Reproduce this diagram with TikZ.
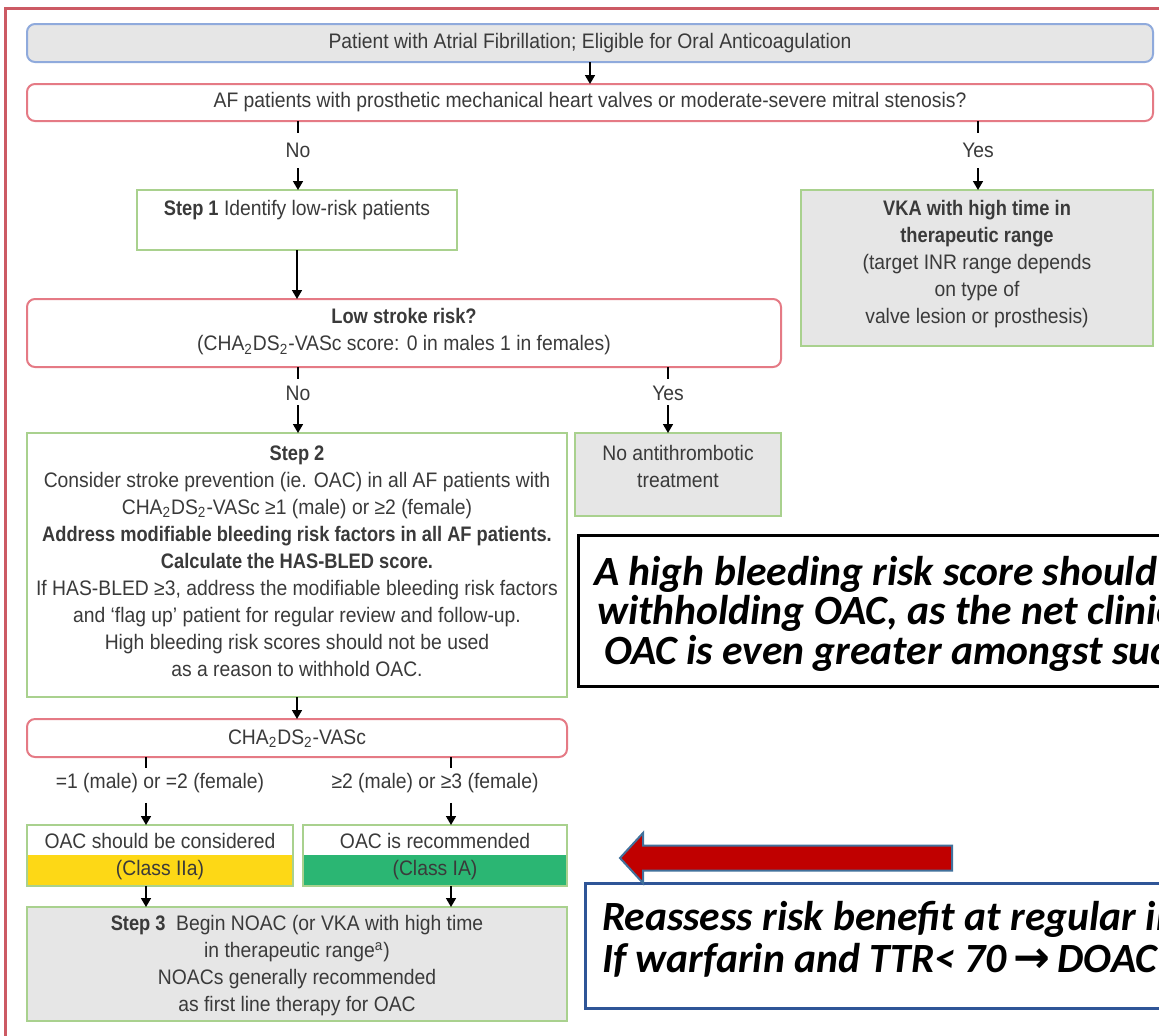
\documentclass[tikz,border=0pt]{standalone}
\usepackage{fontspec}
\setmainfont{Liberation Sans}[FakeStretch=0.92, BoldFeatures={FakeStretch=0.87}]
\newfontfamily\callfont{Carlito}
\newfontfamily\symfont{DejaVu Sans}
\usetikzlibrary{arrows.meta,fit,calc}
\definecolor{frameRed}{HTML}{CC5A64}
\definecolor{boxBlue}{HTML}{8FAADC}
\definecolor{boxRed}{HTML}{E57A85}
\definecolor{boxGreen}{HTML}{A9D18E}
\definecolor{boxGray}{HTML}{E6E6E6}
\definecolor{txtGray}{HTML}{3A3A3A}
\definecolor{classYellow}{HTML}{FDD816}
\definecolor{classGreen}{HTML}{2BB673}
\definecolor{arrowRed}{HTML}{C00000}
\definecolor{arrowEdge}{HTML}{41719C}
\definecolor{calloutBlue}{HTML}{2F5597}
\begin{document}
\begin{tikzpicture}[x=0.5pt,y=-0.5pt,
  every node/.style={inner sep=0pt, outer sep=0pt, text=txtGray, font=\fontsize{10.5}{13.5}\selectfont, align=center},
  redbox/.style={draw=boxRed, line width=1pt, rounded corners=4pt, fill=white},
  bluebox/.style={draw=boxBlue, line width=1pt, rounded corners=4pt, fill=boxGray},
  greenbox/.style={draw=boxGreen, line width=1pt},
  graybox/.style={draw=boxGreen, line width=1pt, fill=boxGray},
  stub/.style={line width=0.8pt, draw=black},
  arr/.style={line width=0.8pt, draw=black, -{Triangle[length=4.5pt,width=5pt]}},
  callout/.style={font=\callfont\bfseries\itshape\fontsize{20.8}{20}\selectfont, text=black, anchor=base west, align=left},
]
\useasboundingbox (0,0) rectangle (1159,1035);
\clip (0,0) rectangle (1159,1035);
\fill[white] (0,0) rectangle (1159,1035);
\draw[frameRed, line width=1.5pt] (5,8) rectangle (1185,1050);

% top boxes
\node[bluebox, fit={(27,24)(1153,62)}] (start) {};
\node (startt) at (590,43) {Patient with Atrial Fibrillation; Eligible for Oral Anticoagulation};
\node[redbox, fit={(27,84)(1153,121)}] (af) {};
\node (aft) at (590,102) {AF patients with prosthetic mechanical heart valves or moderate-severe mitral stenosis?};
\draw[arr] (start) -- (af);

% step 1 and VKA
\node[greenbox, fit={(137,190)(457,250)}] (s1) {};
\node (s1t) at (297,210) {\textbf{Step 1} Identify low-risk patients};
\node[graybox, fit={(801,190)(1153,346)}] (vka) {};
\node (vkat) at (977,264) {\textbf{VKA with high time in}\\\textbf{therapeutic range}\\(target INR range depends\\on type of\\valve lesion or prosthesis)};

\node (no1) at (298,150) {No};
\node (yes1) at (978,150) {Yes};
\draw[stub, shorten >=8.5pt] (af.south -| no1) -- (no1.center);
\draw[arr, shorten <=9pt] (no1.center) -- (s1.north -| no1);
\draw[stub, shorten >=8.5pt] (af.south -| yes1) -- (yes1.center);
\draw[arr, shorten <=9pt] (yes1.center) -- (vka.north -| yes1);

% low stroke risk
\node[redbox, fit={(27,299)(781,367)}] (low) {};
\node (lowt) at (404,332) {\textbf{Low stroke risk?}\\(CHA\textsubscript{2}DS\textsubscript{2}-VASc score: 0 in males 1 in females)};
\draw[arr] (s1.south -| s1t) -- (low.north -| s1t);

\node (no2) at (298,393) {No};
\node (yes2) at (668,393) {Yes};
\draw[stub, shorten >=7pt] (low.south -| no2) -- (no2.center);
\draw[stub, shorten >=7pt] (low.south -| yes2) -- (yes2.center);

% step 2 and no antithrombotic
\node[greenbox, fit={(27,433)(567,697)}] (s2) {};
\node (s2t) at (297,561) {\textbf{Step 2}\\Consider stroke prevention (ie. OAC) in all AF patients with\\CHA\textsubscript{2}DS\textsubscript{2}-VASc ≥1 (male) or ≥2 (female)\\\textbf{Address modifiable bleeding risk factors in all AF patients.}\\\textbf{Calculate the HAS-BLED score.}\\If HAS-BLED ≥3, address the modifiable bleeding risk factors\\and ‘flag up’ patient for regular review and follow-up.\\High bleeding risk scores should not be used\\as a reason to withhold OAC.};
\node[graybox, fit={(575,433)(781,516)}] (noat) {};
\node (noatt) at (678,466) {No antithrombotic\\treatment};
\draw[arr, shorten <=6pt] (no2.center) -- (s2.north -| no2);
\draw[arr, shorten <=6pt] (yes2.center) -- (noat.north -| yes2);

% CHA2DS2-VASc
\node[redbox, fit={(27,719)(567,757)}] (cha) {};
\node (chat) at (297,739) {CHA\textsubscript{2}DS\textsubscript{2}-VASc};
\draw[arr] (s2) -- (cha);
\coordinate (xa) at (146,0);
\coordinate (xb) at (451,0);
\node (c1) at (160,783) {=1 (male) or =2 (female)};
\node (c2) at (435,783) {≥2 (male) or ≥3 (female)};
\draw[stub] (cha.south -| xa) -- ($(cha.south -| xa)+(0,11)$);
\draw[stub] (cha.south -| xb) -- ($(cha.south -| xb)+(0,11)$);

% class boxes
\fill[classYellow] (27,855) rectangle (293,886);
\fill[classGreen] (303,855) rectangle (567,886);
\node[greenbox, fit={(27,825)(293,886)}] (oac1) {};
\node[greenbox, fit={(303,825)(567,886)}] (oac2) {};
\node (oac1a) at (160,841) {OAC should be considered};
\node (oac1b) at (160,870) {(Class IIa)};
\node (oac2a) at (435,841) {OAC is recommended};
\node (oac2b) at (435,870) {(Class IA)};
\draw[arr] ($(c1.south -| xa)+(0,10)$) -- (oac1.north -| xa);
\draw[arr] ($(c2.south -| xb)+(0,10)$) -- (oac2.north -| xb);

% step 3
\node[graybox, fit={(27,907)(567,1021)}] (s3) {};
\node (s3t) at (297,966) {\textbf{Step 3}\enspace Begin NOAC (or VKA with high time\\in therapeutic range\textsuperscript{a})\\NOACs generally recommended\\as first line therapy for OAC};
\draw[arr] (oac1.south -| xa) -- (s3.north -| xa);
\draw[arr] (oac2.south -| xb) -- (s3.north -| xb);

% callouts
\node[draw=black, line width=1.5pt, fit={(578,535)(1185,686)}] (cbox) {};
\node[callout] (cl1) at (594,585) {A high bleeding risk score should not};
\node[callout] (cl2) at (597,624) {withholding OAC, as the net clinical};
\node[callout] (cl3) at (604,664) {OAC is even greater amongst such};

\node[draw=calloutBlue, line width=1.5pt, fit={(585,883)(1185,1008)}] (rbox) {};
\node[callout] (rl1) at (602,930) {Reassess risk benefit at regular intervals};
\node[callout] (rl2) at (602,972) {If warfarin and TTR< 70\,{\symfont\bfseries\fontsize{22}{20}\selectfont →}\,DOAC};

\draw[arrowEdge, fill=arrowRed, line width=1pt] (620,858) -- (643,833) -- (643,845.5) -- (952,845.5) -- (952,870.5) -- (643,870.5) -- (643,883) -- cycle;
\end{tikzpicture}
\end{document}
